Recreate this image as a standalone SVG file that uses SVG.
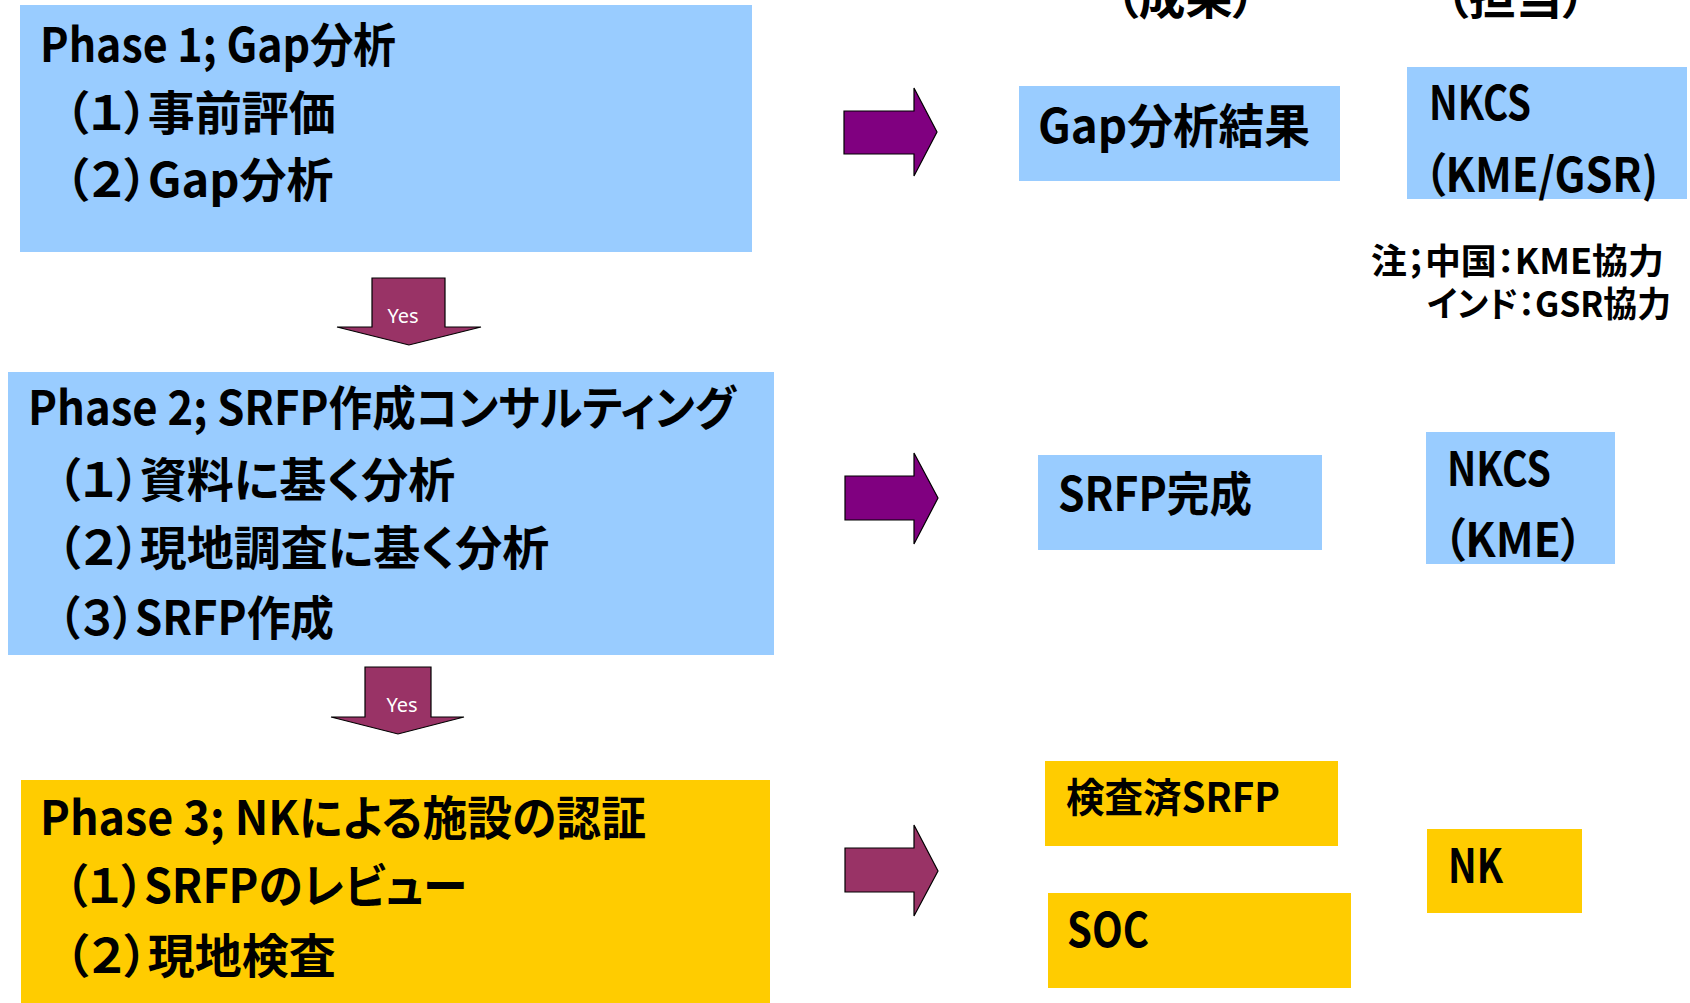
<svg xmlns="http://www.w3.org/2000/svg" width="1690" height="1003" viewBox="0 0 1690 1003">
<style>
  .t { font-family: "Noto Sans CJK JP", "Noto Sans", sans-serif; font-weight: 700; fill: #000; font-feature-settings: "palt"; }
  .big { font-size: 47px; }
  .mid { font-size: 40px; }
  .note { font-size: 35px; }
  .blue { fill: #99CCFF; }
  .yel { fill: #FFCC00; }
  .purple { fill: #800080; stroke: #000; stroke-width: 1.2; }
  .maroon { fill: #993366; stroke: #000; stroke-width: 1.2; }
  .yes { font-family: "Noto Sans", "Open Sans", sans-serif; font-size: 20px; fill: #fff; text-anchor: middle; }
</style>
<rect width="1690" height="1003" fill="#fff"/>

<g id="header">
  <text class="t big" x="1115" y="14">（成果）</text>
  <text class="t big" x="1445" y="14">（担当）</text>
</g>

<g id="phase1">
  <rect class="blue" x="20" y="5" width="732" height="247"/>
  <text class="t big" x="40" y="62" textLength="356" lengthAdjust="spacingAndGlyphs">Phase 1; Gap分析</text>
  <text class="t big" x="65" y="130">（１）事前評価</text>
  <text class="t big" x="65" y="197">（２）Gap分析</text>
</g>

<g id="phase2">
  <rect class="blue" x="8" y="372" width="766" height="283"/>
  <text class="t big" x="28" y="425" textLength="708" lengthAdjust="spacingAndGlyphs">Phase 2; SRFP作成コンサルティング</text>
  <text class="t big" x="57" y="497">（１）資料に基く分析</text>
  <text class="t big" x="57" y="565">（２）現地調査に基く分析</text>
  <text class="t big" x="58" y="635" textLength="276" lengthAdjust="spacingAndGlyphs">（３）SRFP作成</text>
</g>

<g id="phase3">
  <rect class="yel" x="21" y="780" width="749" height="223"/>
  <text class="t big" x="40" y="835" textLength="606" lengthAdjust="spacingAndGlyphs">Phase 3; NKによる施設の認証</text>
  <text class="t big" x="65" y="903" textLength="402" lengthAdjust="spacingAndGlyphs">（１）SRFPのレビュー</text>
  <text class="t big" x="65" y="973">（２）現地検査</text>
</g>

<g id="out1">
  <rect class="blue" x="1019" y="86" width="321" height="95"/>
  <text class="t big" x="1038" y="143" textLength="272" lengthAdjust="spacingAndGlyphs">Gap分析結果</text>
</g>
<g id="resp1">
  <rect class="blue" x="1407" y="67" width="280" height="132"/>
  <text class="t big" x="1429" y="120" textLength="102" lengthAdjust="spacingAndGlyphs">NKCS</text>
  <text class="t big" x="1424" y="192" textLength="234" lengthAdjust="spacingAndGlyphs">（KME/GSR)</text>
</g>
<g id="note">
  <text class="t note" x="1371" y="274" textLength="293" lengthAdjust="spacingAndGlyphs">注；中国：KME協力</text>
  <text class="t note" x="1427" y="317" textLength="244" lengthAdjust="spacingAndGlyphs">インド：GSR協力</text>
</g>

<g id="out2">
  <rect class="blue" x="1038" y="455" width="284" height="95"/>
  <text class="t big" x="1058" y="511" textLength="194" lengthAdjust="spacingAndGlyphs">SRFP完成</text>
</g>
<g id="resp2">
  <rect class="blue" x="1426" y="432" width="189" height="132"/>
  <text class="t big" x="1447" y="486" textLength="104" lengthAdjust="spacingAndGlyphs">NKCS</text>
  <text class="t big" x="1443" y="557" textLength="140" lengthAdjust="spacingAndGlyphs">（KME）</text>
</g>

<g id="out3a">
  <rect class="yel" x="1045" y="761" width="293" height="85"/>
  <text class="t mid" x="1066" y="812" textLength="214" lengthAdjust="spacingAndGlyphs">検査済SRFP</text>
</g>
<g id="out3b">
  <rect class="yel" x="1048" y="893" width="303" height="95"/>
  <text class="t big" x="1067" y="947" textLength="82" lengthAdjust="spacingAndGlyphs">SOC</text>
</g>
<g id="resp3">
  <rect class="yel" x="1427" y="829" width="155" height="84"/>
  <text class="t big" x="1448" y="883" textLength="55" lengthAdjust="spacingAndGlyphs">NK</text>
</g>

<g id="connectors">
  <path class="maroon" d="M372,278 H445 V327 H481 L409,345 L337,327 H372 Z"/>
  <text class="yes" x="403" y="323">Yes</text>
  <path class="maroon" d="M365,667 H431 V717 H464 L398,734 L331,717 H365 Z"/>
  <text class="yes" x="402" y="712">Yes</text>
  <path class="purple" d="M844,111 H914 V88 L937,132 L914,176 V154 H844 Z"/>
  <path class="purple" d="M845,476 H914 V453 L938,498 L914,544 V520 H845 Z"/>
  <path class="maroon" d="M845,848 H914 V825 L938,871 L914,916 V892 H845 Z"/>
</g>
</svg>
